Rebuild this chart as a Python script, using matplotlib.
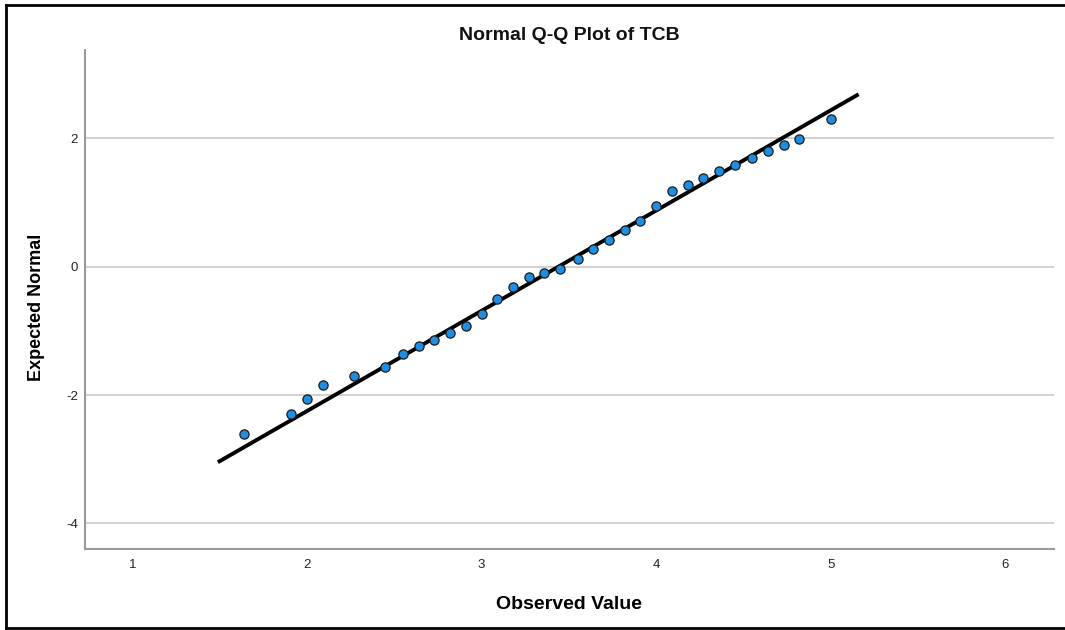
import matplotlib
matplotlib.use("Agg")
import matplotlib.pyplot as plt
from matplotlib.lines import Line2D
import numpy as np

plt.rcParams['font.family'] = ['Liberation Sans', 'DejaVu Sans']
plt.rcParams['axes.unicode_minus'] = False

# Data
observed = [1.64, 1.91, 2.00, 2.09, 2.27, 2.45, 2.55, 2.64, 2.73, 2.82, 2.91,
            3.00, 3.09, 3.18, 3.27, 3.36, 3.45, 3.55, 3.64, 3.73, 3.82, 3.91,
            4.00, 4.09, 4.18, 4.27, 4.36, 4.45, 4.55, 4.64, 4.73, 4.82, 5.00]
expected = [-2.61, -2.30, -2.06, -1.85, -1.71, -1.57, -1.36, -1.24, -1.14, -1.03, -0.92,
            -0.73, -0.50, -0.31, -0.16, -0.10, -0.03, 0.12, 0.27, 0.41, 0.57, 0.71,
            0.95, 1.18, 1.27, 1.38, 1.49, 1.58, 1.69, 1.80, 1.89, 1.99, 2.30]
line_mean = 3.44
line_sd = 0.64
line_x = [1.49, 5.16]
x_ticks = [1, 2, 3, 4, 5, 6]
y_ticks = [-4, -2, 0, 2]

fig = plt.figure(figsize=(10.65, 6.3), dpi=100)
ax = fig.add_axes([85/1065, 1 - 549/630, (1054 - 85)/1065, (549 - 50)/630])

ax.set_xlim(0.729, 6.279)
ax.set_ylim(-4.399, 3.377)

ax.set_xticks(x_ticks)
ax.set_yticks(y_ticks)
ax.tick_params(length=0, labelsize=9.5, colors='#222222')
ax.tick_params(axis='x', pad=7.5)
ax.tick_params(axis='y', pad=5)

ax.yaxis.grid(True, color='#c8c8c8', linewidth=1.2)
ax.xaxis.grid(False)
ax.set_axisbelow(True)

for s in ['top', 'right']:
    ax.spines[s].set_visible(False)
for s in ['left', 'bottom']:
    ax.spines[s].set_color('#999999')
    ax.spines[s].set_linewidth(1.5)

lx = np.array(line_x)
ly = (lx - line_mean) / line_sd
ax.plot(lx, ly, color='black', linewidth=2.8, zorder=3, solid_capstyle='butt')

ax.scatter(observed, expected, s=44, facecolor='#1f8ee0', edgecolor='#1a1a1a',
           linewidth=0.9, zorder=4)

ax.set_title('Normal Q-Q Plot of TCB', fontsize=14, fontweight='bold',
             color='#111111', pad=7)
ax.set_xlabel('Observed Value', fontsize=14, fontweight='bold', labelpad=18)
ax.set_ylabel('Expected Normal', fontsize=13, fontweight='bold')
ax.yaxis.set_label_coords(-0.0413, 0.485)

# Outer frame (top, left, bottom)
W, H = 1065, 630
fig.add_artist(Line2D([6/W, 6/W], [1 - 5/H, 1 - 628/H], color='black', linewidth=2, transform=fig.transFigure))
fig.add_artist(Line2D([6/W, 1.0], [1 - 5/H, 1 - 5/H], color='black', linewidth=2, transform=fig.transFigure))
fig.add_artist(Line2D([6/W, 1.0], [1 - 628/H, 1 - 628/H], color='black', linewidth=2, transform=fig.transFigure))

fig.savefig('out.png', dpi=100)
